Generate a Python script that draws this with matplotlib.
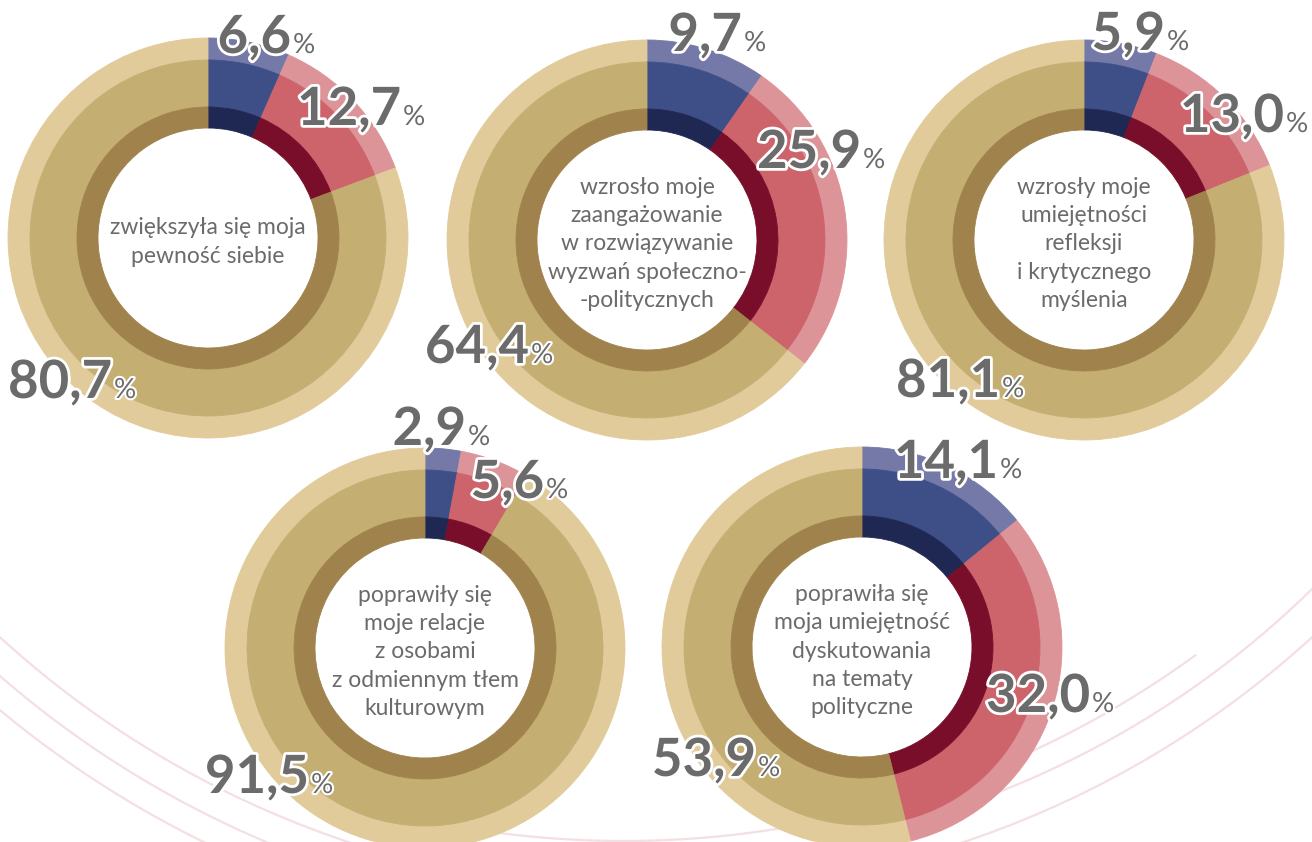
import matplotlib
matplotlib.use('Agg')
import matplotlib.pyplot as plt
import matplotlib.patheffects as pe
import numpy as np

W, H = 1312, 842

# data
titles = [
    'zwiększyła się moja\npewność siebie',
    'wzrosło moje\nzaangażowanie\nw rozwiązywanie\nwyzwań społeczno-\n-politycznych',
    'wzrosły moje\numiejętności\nrefleksji\ni krytycznego\nmyślenia',
    'poprawiły się\nmoje relacje\nz osobami\nz odmiennym tłem\nkulturowym',
    'poprawiła się\nmoja umiejętność\ndyskutowania\nna tematy\npolityczne',
]
blue = [6.6, 9.7, 5.9, 2.9, 14.1]
red = [12.7, 25.9, 13.0, 5.6, 32.0]
tan = [80.7, 64.4, 81.1, 91.5, 53.9]

# layout (pixels, y from top)
centers = [(208, 238), (647, 240), (1084, 240), (425, 648), (862, 647)]
# label anchor: x where number ends / % begins, y baseline  (blue, red, tan)
lab_blue = [(291, 53), (742, 51), (1165, 50), (466, 445), (998, 478)]
lab_red = [(401, 125), (861, 168), (1284, 132), (544, 498), (1090, 712)]
lab_tan = [(112, 398), (529, 363), (1000, 397), (309, 793), (756, 776)]

light = ['#7479a8', '#dc9498', '#e2cb9a']
mid = ['#3e4f88', '#cd636b', '#c4ae72']
dark = ['#1f2852', '#780e2a', '#a0824c']
rings = [(200, 22, light), (178, 47, mid), (131, 21, dark)]

gray = '#6b6b6b'

fig = plt.figure(figsize=(13.12, 8.42), dpi=100)
ax = fig.add_axes([0, 0, 1, 1])

# faint decorative arcs in the background
arcs = [  # cx, cy, r, t0, t1 (deg, 0 = bottom)
    (656, -80, 972, -50, 50),
    (656, -80, 1001, -50, -15),
    (656, -80, 1027, -50, -15),
    (656, -80, 937, 12, 50),
    (624, -131, 972, -20, 36),
]
for cx, cy, r, t0, t1 in arcs:
    t = np.radians(np.linspace(t0, t1, 300))
    ax.plot(cx + r * np.sin(t), H - (cy + r * np.cos(t)), color='#f4dfe2', lw=1.6, zorder=0)

for i in range(5):
    vals = [blue[i], red[i], tan[i]]
    cx, cy = centers[i]
    for radius, width, cols in rings:
        wedges, _ = ax.pie(vals, colors=cols, radius=radius, center=(cx, H - cy), startangle=90,
                           counterclock=False, frame=True, wedgeprops=dict(width=width))
        for w in wedges:
            w.set_edgecolor(w.get_facecolor())
            w.set_linewidth(0.6)
    ax.text(cx, H - cy - 4, titles[i], ha='center', va='center', fontsize=16.5,
            family='Lato', color=gray, linespacing=1.42, zorder=5)

    for v, (lx, ly) in zip(vals, [lab_blue[i], lab_red[i], lab_tan[i]]):
        s = f'{v:.1f}'.replace('.', ',')
        ax.text(lx, H - ly, s, ha='right', va='baseline', fontsize=38, fontweight='bold',
                family='Lato', color=gray, zorder=6,
                path_effects=[pe.withStroke(linewidth=4, foreground='white')])
        ax.text(lx + 2, H - ly, '%', ha='left', va='baseline', fontsize=20,
                family='Lato', color=gray, zorder=6,
                path_effects=[pe.withStroke(linewidth=3, foreground='white')])

ax.set_xlim(0, W)
ax.set_ylim(0, H)
ax.set_aspect('equal')
ax.axis('off')

fig.savefig('out.png', dpi=100, facecolor='white')
